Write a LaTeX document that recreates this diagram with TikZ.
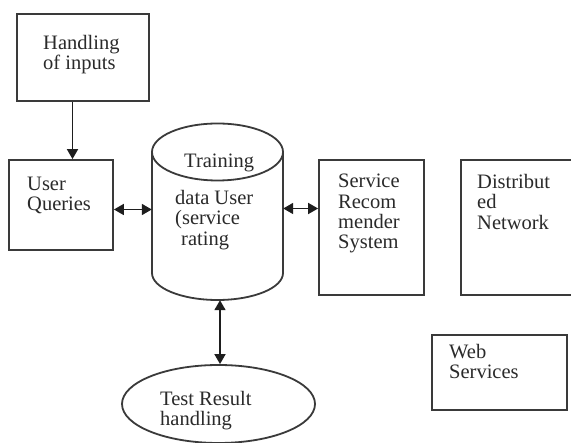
\documentclass[tikz,border=0pt]{standalone}
\usepackage{fontspec}
\setmainfont{Liberation Serif}
\usetikzlibrary{arrows.meta,shapes.geometric}
\definecolor{linec}{HTML}{3A3A3A}
\definecolor{arrc}{HTML}{1E1E1E}
\definecolor{txtc}{HTML}{2A2A2A}
\begin{document}
\begin{tikzpicture}[x=1pt,y=-1pt,
  box/.style={draw=linec, line width=1.8pt, inner sep=0pt},
  lbl/.style={text=txtc, align=left, anchor=north west, inner sep=0pt,
              font=\fontsize{20.5}{20.3}\selectfont},
  arr/.style={draw=arrc, line width=1.7pt, -{Triangle[length=10pt,width=11pt]}},
  darr/.style={draw=arrc, line width=1.7pt,
               {Triangle[length=10pt,width=11pt]}-{Triangle[length=10pt,width=11pt]}}]

% canvas
\fill[white] (0,0) rectangle (571,443);
\useasboundingbox (0,0) rectangle (571,443);

% boxes
\node[box, rectangle, minimum width=132pt, minimum height=87pt] (hand) at (83,57.5) {};
\node[box, rectangle, minimum width=104pt, minimum height=90pt] (uq) at (61,205) {};
\node[box, rectangle, minimum width=105pt, minimum height=135pt] (srs) at (371.5,227.5) {};
\node[box, rectangle, minimum width=114pt, minimum height=135pt] (dist) at (518,227.5) {};
\node[box, rectangle, minimum width=135pt, minimum height=75pt] (web) at (499.5,372.5) {};
\node[box, ellipse, minimum width=193pt, minimum height=78pt] (test) at (218.5,404) {};

% database cylinder
\node[rectangle, inner sep=0pt, minimum width=131pt, minimum height=177pt] (cyl) at (217.5,211.5) {};
\draw[box] (217.5,152) ellipse[x radius=65.5pt, y radius=28.5pt];
\draw[box] (152,152) -- (152,273) arc[start angle=180, end angle=360, x radius=65.5pt, y radius=27pt] -- (283,152);

% labels
\node[lbl] (handt) at (43,35) {Handling\\of inputs};
\node[lbl] (uqt) at (27,177) {User\\Queries};
\node[lbl] (cylt1) at (184,154) {Training};
\node[lbl] (cylt2) at (175,190) {data User\\(service\\\hspace*{6pt}rating};
\node[lbl] (srst) at (338,174) {Service\\Recom\\mender\\System};
\node[lbl] (distt) at (477,174) {Distribut\\ed\\Network};
\node[lbl] (webt) at (449,344) {Web\\Services};
\node[lbl] (testt) at (160,391) {Test Result\\handling};

% connectors
\draw[arr] ([xshift=-10.5pt]hand.south) -- ([xshift=-10.5pt]hand.south |- uq.north);
\draw[darr] ([yshift=-4.5pt]uq.east) -- ([yshift=-4.5pt]uq.east -| cyl.west);
\draw[darr] ([yshift=3pt]cyl.east) -- ([yshift=3pt]cyl.east -| srs.west);
\draw[darr] ([xshift=2.5pt]cyl.south) -- ([xshift=2.5pt]cyl.south |- test.north);
\end{tikzpicture}
\end{document}
